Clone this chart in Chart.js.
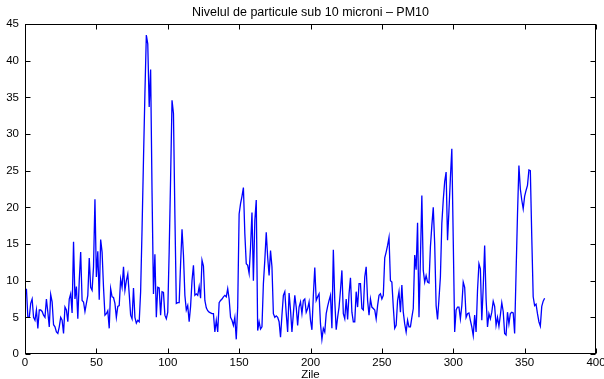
<!DOCTYPE html>
<html>
<head>
<meta charset="utf-8">
<title>PM10</title>
<script src="https://cdn.jsdelivr.net/npm/chart.js@4.4.0/dist/chart.umd.min.js"></script>
<style>
  html, body { margin: 0; padding: 0; background: #fff; }
  #pm10 { display: block; }
</style>
</head>
<body>
<canvas id="pm10" width="604" height="379"></canvas>
<script>
// daily PM10 level, one value per day
const pm10 = [
  8.9, 5.0, 5.0, 6.9, 7.5, 5.0, 4.6, 6.0, 3.5, 6.0,
  6.0, 5.8, 5.3, 5.0, 7.5, 5.7, 3.7, 8.1, 7.1, 4.0,
  3.7, 3.0, 2.8, 3.7, 5.0, 4.6, 2.8, 6.4, 6.0, 4.4,
  7.5, 8.2, 5.6, 15.3, 7.5, 9.2, 4.8, 10.0, 13.9, 7.3,
  7.1, 5.8, 6.9, 8.0, 13.1, 9.1, 8.7, 11.9, 21.1, 10.5,
  14.0, 7.4, 15.6, 13.9, 9.1, 5.3, 5.5, 5.9, 3.5, 8.9,
  7.8, 7.7, 6.9, 5.0, 6.5, 6.6, 10.2, 9.1, 11.9, 8.7,
  10.0, 10.9, 8.2, 5.3, 4.8, 9.0, 5.0, 4.2, 4.6, 4.4,
  8.5, 17.0, 26.5, 35.5, 43.5, 42.3, 33.7, 38.8, 22.0, 8.2,
  13.6, 5.0, 9.1, 9.0, 5.3, 8.5, 8.4, 5.3, 4.8, 5.7,
  14.0, 24.0, 34.6, 32.8, 19.0, 6.9, 7.0, 7.0, 12.3, 17.0,
  13.5, 8.0, 6.0, 6.6, 4.4, 6.5, 10.0, 12.1, 8.0, 8.2,
  8.0, 9.2, 7.6, 12.8, 12.0, 7.3, 6.3, 5.9, 5.7, 5.6,
  5.5, 5.5, 3.0, 4.6, 3.0, 7.0, 7.3, 7.5, 7.8, 8.0,
  7.8, 8.9, 7.5, 5.0, 4.6, 3.9, 5.0, 2.0, 6.4, 19.1,
  20.5, 21.5, 22.7, 16.4, 12.3, 12.1, 11.0, 14.6, 19.3, 10.0,
  18.2, 21.0, 3.2, 4.4, 3.4, 3.7, 9.6, 12.8, 16.6, 13.2,
  10.7, 14.1, 11.9, 5.5, 5.0, 5.2, 5.0, 4.4, 2.3, 5.3,
  8.0, 8.5, 5.5, 3.0, 8.3, 6.0, 3.0, 5.5, 8.0, 6.4,
  3.9, 6.4, 7.1, 5.5, 7.3, 7.5, 5.7, 6.2, 7.1, 4.6,
  3.3, 8.0, 11.8, 7.3, 7.8, 8.2, 4.1, 2.0, 3.5, 3.0,
  5.5, 6.5, 7.3, 8.0, 3.5, 14.2, 7.3, 3.3, 5.0, 6.4,
  8.7, 11.4, 5.5, 4.8, 7.5, 4.7, 8.2, 10.4, 5.7, 4.4,
  4.4, 8.5, 6.4, 9.6, 9.6, 6.2, 6.0, 10.5, 11.9, 7.3,
  5.3, 7.5, 6.4, 6.2, 6.0, 4.8, 6.6, 8.0, 8.2, 7.5,
  8.0, 13.1, 13.9, 14.8, 15.9, 10.0, 9.8, 6.4, 3.5, 3.9,
  7.3, 8.5, 5.7, 9.4, 5.7, 4.1, 3.0, 4.6, 3.7, 3.7,
  5.0, 6.2, 13.5, 11.5, 17.9, 5.0, 13.0, 21.6, 11.4, 9.8,
  10.7, 9.8, 9.7, 14.6, 17.5, 20.0, 15.0, 6.6, 4.7, 7.5,
  10.5, 17.8, 21.0, 23.5, 24.8, 15.5, 19.6, 24.0, 28.0, 15.5,
  3.0, 6.0, 6.4, 6.4, 4.8, 6.6, 9.8, 9.1, 5.0, 5.5,
  5.6, 4.6, 3.7, 2.5, 5.3, 3.0, 8.7, 12.3, 11.6, 4.6,
  9.1, 14.8, 7.5, 3.7, 5.5, 4.8, 5.7, 7.2, 6.5, 3.9,
  5.0, 3.8, 5.3, 7.0, 5.8, 2.8, 2.6, 5.7, 4.1, 5.5,
  5.7, 5.6, 2.8, 11.0, 19.0, 25.7, 22.5, 21.0, 19.8, 21.5,
  22.3, 23.0, 25.1, 25.0, 16.0, 7.8, 6.6, 6.8, 5.5, 4.4,
  3.8, 6.5, 7.2, 7.6
];
const days = pm10.map((_, i) => i + 1);

const xRange = [0, 400];
const xStep = 50;
const yRange = [0, 45];
const yStep = 5;

const chartTitle = 'Nivelul de particule sub 10 microni \u2013 PM10';
const xTitle = 'Zile';

const FONT = "'Liberation Sans', Arial, Helvetica, sans-serif";
const TICK_LEN = 5;

// matlab style box with ticks pointing inwards on all four sides
const boxAxes = {
  id: 'boxAxes',
  afterDraw(chart) {
    const { ctx, chartArea: a, scales: { x, y } } = chart;
    const L = Math.round(a.left) + 0.5, R = Math.round(a.right) - 0.5;
    const T = Math.round(a.top) + 0.5, B = Math.round(a.bottom) - 0.5;
    ctx.save();
    ctx.strokeStyle = '#000';
    ctx.lineWidth = 1;
    ctx.beginPath();
    x.ticks.forEach(t => {
      const px = Math.round(x.getPixelForValue(t.value)) + 0.5;
      ctx.moveTo(px, B); ctx.lineTo(px, B - TICK_LEN);
      ctx.moveTo(px, T); ctx.lineTo(px, T + TICK_LEN);
    });
    y.ticks.forEach(t => {
      const py = Math.round(y.getPixelForValue(t.value)) + 0.5;
      ctx.moveTo(L, py); ctx.lineTo(L + TICK_LEN, py);
      ctx.moveTo(R, py); ctx.lineTo(R - TICK_LEN, py);
    });
    ctx.stroke();
    ctx.strokeRect(L, T, R - L, B - T);
    ctx.restore();
  }
};

new Chart(document.getElementById('pm10'), {
  type: 'line',
  data: {
    datasets: [{
      data: days.map((d, i) => ({ x: d, y: pm10[i] })),
      borderColor: '#0000ff',
      borderWidth: 1.3,
      pointRadius: 0,
      tension: 0,
      fill: false
    }]
  },
  options: {
    responsive: false,
    animation: false,
    devicePixelRatio: 1,
    layout: { padding: { left: 0, right: 8, top: 0, bottom: 0 } },
    plugins: {
      legend: { display: false },
      tooltip: { enabled: false },
      title: {
        display: true,
        fullSize: false,
        text: chartTitle,
        color: '#000',
        font: { family: FONT, size: 12.5, weight: 'normal', lineHeight: 1 },
        padding: { top: 6, bottom: 5.5 }
      }
    },
    scales: {
      x: {
        type: 'linear',
        min: xRange[0],
        max: xRange[1],
        grid: { display: false, drawTicks: false },
        border: { display: false },
        ticks: {
          stepSize: xStep,
          autoSkip: false,
          maxRotation: 0,
          padding: 2,
          color: '#000',
          font: { family: FONT, size: 11.5 }
        },
        title: {
          display: true,
          text: xTitle,
          color: '#000',
          font: { family: FONT, size: 11.5, lineHeight: 1 },
          padding: { top: 0, bottom: -1.5 }
        },
        afterFit(scale) {
          scale.height = 25;
          scale.paddingLeft = 0;
          scale.paddingRight = 0;
        }
      },
      y: {
        min: yRange[0],
        max: yRange[1],
        grid: { display: false, drawTicks: false },
        border: { display: false },
        ticks: {
          stepSize: yStep,
          padding: 6,
          color: '#000',
          font: { family: FONT, size: 11.5 }
        },
        afterFit(scale) {
          scale.width = 25;
          scale.paddingTop = 0;
          scale.paddingBottom = 0;
        }
      }
    }
  },
  plugins: [boxAxes]
});
</script>
</body>
</html>
